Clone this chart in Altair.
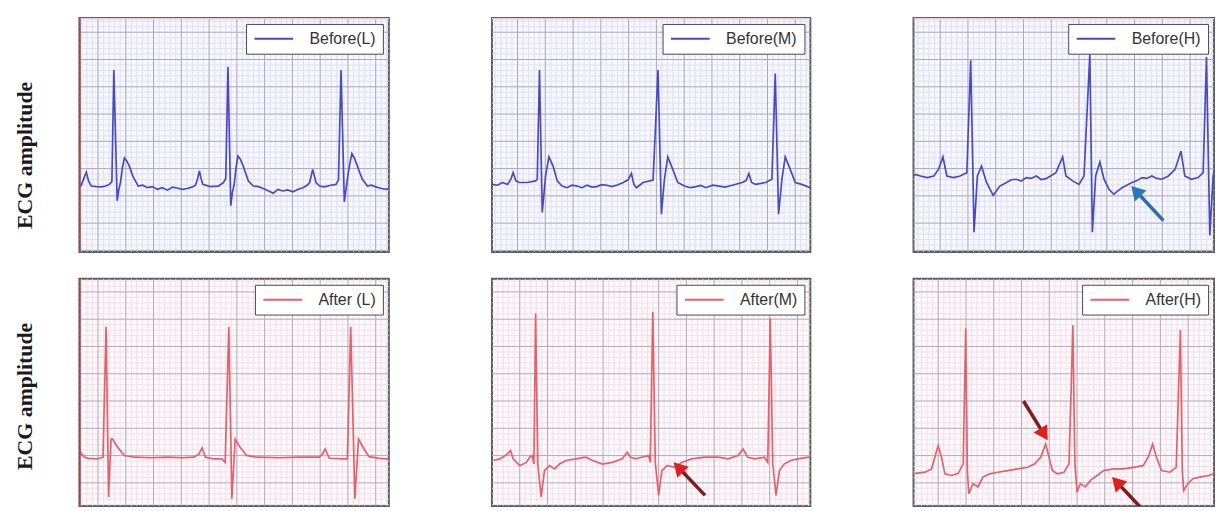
import math
import altair as alt
import pandas as pd

# ---------------- waveform samples ----------------
# t   : time, in large-grid divisions from the panel's left edge
# amp : amplitude, in large-grid divisions above the top row's lower edge
before_L = [(0.00, 2.40), (0.07, 2.45), (0.16, 2.70), (0.25, 2.93), (0.33, 2.60), (0.43, 2.42), (0.60, 2.40),
            (0.79, 2.39), (0.95, 2.42), (1.08, 2.48), (1.17, 2.58), (1.24, 6.67), (1.36, 1.88), (1.42, 2.30),
            (1.48, 2.55), (1.55, 3.10), (1.62, 3.45), (1.70, 3.35), (1.80, 3.15), (1.90, 2.85), (1.98, 2.67),
            (2.12, 2.42), (2.28, 2.45), (2.45, 2.36), (2.62, 2.40), (2.81, 2.30), (2.98, 2.36), (3.17, 2.27),
            (3.35, 2.38), (3.52, 2.35), (3.70, 2.30), (3.88, 2.33), (4.05, 2.38), (4.18, 2.45), (4.26, 2.70),
            (4.32, 2.97), (4.38, 2.70), (4.44, 2.48), (4.71, 2.40), (5.01, 2.42), (5.19, 2.55), (5.27, 2.70),
            (5.35, 6.79), (5.45, 1.70), (5.51, 2.20), (5.57, 2.45), (5.64, 3.10), (5.71, 3.52), (5.80, 3.40),
            (5.90, 3.15), (6.00, 2.85), (6.08, 2.61), (6.26, 2.42), (6.45, 2.40), (6.62, 2.33), (6.80, 2.25),
            (6.98, 2.16), (7.15, 2.30), (7.33, 2.24), (7.50, 2.28), (7.69, 2.21), (7.88, 2.30), (8.05, 2.36),
            (8.20, 2.45), (8.29, 2.55), (8.40, 3.03), (8.46, 2.80), (8.52, 2.55), (8.65, 2.42), (8.82, 2.39),
            (9.05, 2.45), (9.24, 2.48), (9.33, 2.65), (9.42, 6.67), (9.54, 1.84), (9.60, 2.30), (9.65, 2.67),
            (9.73, 3.20), (9.81, 3.61), (9.90, 3.45), (10.01, 3.15), (10.10, 2.90), (10.19, 2.67), (10.37, 2.42),
            (10.52, 2.45), (10.67, 2.39), (10.88, 2.33), (11.08, 2.30), (11.14, 2.32)]

before_M = [(0.00, 2.48), (0.20, 2.45), (0.38, 2.55), (0.56, 2.48), (0.68, 2.67), (0.76, 2.91), (0.86, 2.61),
            (0.98, 2.55), (1.27, 2.55), (1.57, 2.61), (1.63, 2.67), (1.71, 6.67), (1.81, 1.45), (1.93, 2.79),
            (2.05, 3.49), (2.20, 3.15), (2.35, 2.61), (2.52, 2.42), (2.70, 2.36), (2.88, 2.45), (3.06, 2.42),
            (3.24, 2.36), (3.42, 2.45), (3.60, 2.38), (3.77, 2.40), (3.95, 2.47), (4.13, 2.45), (4.31, 2.40),
            (4.49, 2.45), (4.73, 2.55), (4.90, 2.65), (5.02, 2.88), (5.11, 2.48), (5.20, 2.36), (5.44, 2.55),
            (5.80, 2.64), (5.98, 6.67), (6.10, 1.39), (6.21, 2.67), (6.33, 3.49), (6.51, 3.03), (6.69, 2.55),
            (6.93, 2.42), (7.15, 2.36), (7.35, 2.40), (7.52, 2.44), (7.70, 2.36), (7.95, 2.45), (8.18, 2.42),
            (8.40, 2.38), (8.65, 2.45), (9.01, 2.55), (9.15, 2.62), (9.25, 2.88), (9.35, 2.55), (9.49, 2.48),
            (9.85, 2.55), (10.08, 2.67), (10.20, 6.55), (10.32, 1.39), (10.44, 2.67), (10.56, 3.49), (10.74, 3.03),
            (10.92, 2.55), (11.15, 2.48), (11.46, 2.36)]

before_H = [(0.00, 2.80), (0.07, 2.85), (0.25, 2.79), (0.49, 2.73), (0.73, 2.79), (0.90, 3.03), (1.06, 3.49),
            (1.20, 2.79), (1.44, 2.73), (1.68, 2.79), (1.92, 2.91), (2.06, 7.03), (2.18, 0.73), (2.30, 2.79),
            (2.45, 3.15), (2.63, 2.55), (2.87, 2.08), (3.11, 2.42), (3.35, 2.55), (3.52, 2.65), (3.70, 2.67),
            (3.88, 2.60), (4.06, 2.73), (4.24, 2.70), (4.42, 2.79), (4.60, 2.66), (4.77, 2.69), (4.95, 2.80),
            (5.13, 2.91), (5.37, 3.49), (5.49, 2.79), (5.73, 2.61), (5.96, 2.48), (6.14, 2.79), (6.35, 7.27),
            (6.44, 0.73), (6.56, 2.79), (6.71, 3.30), (6.86, 2.67), (7.04, 2.30), (7.21, 2.12), (7.51, 2.36),
            (7.87, 2.55), (8.05, 2.62), (8.23, 2.73), (8.40, 2.70), (8.58, 2.79), (8.76, 2.70), (8.94, 2.67),
            (9.18, 2.79), (9.42, 3.03), (9.63, 3.70), (9.77, 2.79), (10.01, 2.67), (10.25, 2.73), (10.43, 2.91),
            (10.55, 7.15), (10.67, 0.61), (10.79, 2.79), (10.90, 3.27), (11.11, 3.03)]

# bottom row amplitudes: large-grid divisions above the figure's lower edge
after_L = [(0.00, 2.34), (0.07, 2.16), (0.19, 2.04), (0.31, 2.00), (0.67, 1.98), (0.85, 2.04), (0.96, 6.82),
           (1.05, 0.58), (1.14, 2.70), (1.20, 2.70), (1.38, 2.40), (1.62, 2.10), (1.98, 2.04), (2.60, 2.02),
           (3.17, 2.04), (3.70, 2.02), (4.12, 2.04), (4.30, 2.15), (4.42, 2.38), (4.54, 2.04), (4.83, 1.98),
           (5.13, 1.98), (5.25, 1.85), (5.38, 6.82), (5.49, 0.52), (5.61, 2.70), (5.79, 2.40), (6.02, 2.10),
           (6.38, 2.04), (7.20, 2.02), (7.93, 2.04), (8.64, 2.04), (8.75, 2.15), (8.85, 2.34), (9.00, 2.00),
           (9.48, 1.98), (9.65, 1.98), (9.77, 6.82), (9.92, 0.52), (10.05, 2.70), (10.25, 2.34), (10.43, 2.06),
           (10.79, 2.00), (11.08, 1.98), (11.14, 1.98)]

after_M = [(0.05, 1.92), (0.29, 1.98), (0.52, 2.13), (0.67, 2.28), (0.76, 1.98), (1.00, 1.73), (1.24, 1.85),
           (1.36, 2.04), (1.45, 2.10), (1.51, 1.79), (1.57, 7.31), (1.65, 1.79), (1.77, 0.58), (1.89, 1.55),
           (2.07, 1.73), (2.25, 1.61), (2.43, 1.79), (2.67, 1.92), (3.02, 1.98), (3.38, 2.04), (3.62, 1.92),
           (3.98, 1.79), (4.33, 1.85), (4.69, 1.98), (4.87, 2.22), (4.99, 2.04), (5.17, 1.98), (5.40, 2.04),
           (5.64, 2.10), (5.70, 1.85), (5.79, 7.37), (5.88, 1.85), (6.00, 0.64), (6.12, 1.55), (6.30, 1.73),
           (6.60, 1.67), (6.83, 1.85), (7.19, 1.98), (7.67, 2.04), (8.14, 2.04), (8.50, 1.98), (8.86, 2.10),
           (9.04, 2.34), (9.21, 2.04), (9.45, 1.98), (9.81, 2.04), (9.93, 1.85), (10.02, 7.13), (10.11, 1.79),
           (10.23, 0.64), (10.35, 1.55), (10.52, 1.79), (10.76, 1.92), (11.00, 1.98), (11.42, 2.04)]

after_H = [(0.06, 1.45), (0.42, 1.49), (0.65, 1.61), (0.80, 2.16), (0.89, 2.46), (1.01, 2.04), (1.13, 1.43),
           (1.37, 1.37), (1.61, 1.45), (1.79, 1.79), (1.88, 6.76), (1.94, 1.55), (1.99, 0.70), (2.14, 1.07),
           (2.32, 0.95), (2.50, 1.31), (2.74, 1.43), (3.04, 1.49), (3.39, 1.55), (3.75, 1.61), (4.11, 1.67),
           (4.35, 1.79), (4.58, 2.04), (4.76, 2.52), (4.88, 2.04), (5.00, 1.55), (5.18, 1.43), (5.42, 1.49),
           (5.60, 1.79), (5.74, 6.88), (5.81, 1.79), (5.89, 0.76), (6.01, 1.07), (6.19, 0.95), (6.37, 1.19),
           (6.61, 1.37), (6.85, 1.55), (7.20, 1.61), (7.56, 1.61), (7.92, 1.67), (8.27, 1.73), (8.45, 2.04),
           (8.61, 2.52), (8.75, 2.04), (8.93, 1.55), (9.23, 1.49), (9.46, 1.67), (9.61, 6.70), (9.68, 1.55),
           (9.73, 0.82), (9.88, 1.07), (10.06, 1.25), (10.30, 1.31), (10.65, 1.37), (11.04, 1.55)]

# annotation arrows: (tail t, tail amp, head t, head amp)
arrows_before_H = [(9.00, 1.15, 8.01, 2.24)]
arrows_after_M = [(7.67, 0.64, 6.71, 1.67)]
arrows_after_H = [(3.96, 4.10, 4.70, 2.88), (8.27, 0.10, 7.32, 1.13)]

legend_labels = ["Before(L)", "Before(M)", "Before(H)", "After (L)", "After(M)", "After(H)"]
y_title = "ECG amplitude"

# ---------------- styling ----------------
PX_X = 28.0
PX_Y = 27.5
H_TOP = 236
H_BOT = 229
GAP_V = 23
GAP_H = 100
BEFORE_COLOR = "#4a4ac0"
AFTER_COLOR = "#e4616c"
TOP_THEME = {"bg": "#f6f6fc", "minor": "#dcdcef", "major": "#a7a7bb", "border": "#5e5e5e"}
BOT_THEME = {"bg": "#fbf7fa", "minor": "#ecdde6", "major": "#b3a9b4", "border": "#5e5e5e"}


def grid_lists(offset, lo, hi):
    minor, major = [], []
    for i in range(-60, 80):
        v = round(offset + 0.2 * i, 4)
        if lo < v < hi:
            (major if i % 5 == 0 else minor).append(v)
    return minor, major


def panel(points, label, color, width, height, ydom, grid_off, theme,
          title_y=None, arrows=(), shaft_color=None, head_color=None,
          red_left=False, pink_top=False):
    xdom = [0, width / PX_X]
    xs = alt.Scale(domain=xdom, nice=False, zero=False)
    ys = alt.Scale(domain=ydom, nice=False, zero=False)
    if title_y is not None:
        yaxis = alt.Axis(title=y_title, labels=False, ticks=False, domain=False, grid=False,
                         titlePadding=43, titleY=title_y, titleFont="Liberation Serif",
                         titleFontSize=22, titleFontWeight="bold", titleColor="#1a1a1a")
    else:
        yaxis = None

    xminor, xmajor = grid_lists(grid_off[0], *xdom)
    yminor, ymajor = grid_lists(grid_off[1], *ydom)

    def vrules(vals, col, sw):
        return alt.Chart(pd.DataFrame({"g": vals})).mark_rule(color=col, strokeWidth=sw).encode(
            x=alt.X("g:Q", scale=xs, axis=None))

    def hrules(vals, col, sw):
        return alt.Chart(pd.DataFrame({"g": vals})).mark_rule(color=col, strokeWidth=sw).encode(
            y=alt.Y("g:Q", scale=ys, axis=yaxis))

    df = pd.DataFrame(points, columns=["t", "amp"])
    df["series"] = label
    line = alt.Chart(df).mark_line(strokeWidth=1.7, clip=True).encode(
        x=alt.X("t:Q", scale=xs, axis=None),
        y=alt.Y("amp:Q", scale=ys, axis=yaxis),
        color=alt.Color("series:N", scale=alt.Scale(domain=[label], range=[color]),
                        legend=alt.Legend(title=None, orient="top-right", offset=6,
                                          fillColor="#ffffff", strokeColor="#4a4a4a", padding=7,
                                          cornerRadius=0, symbolType="M-3,0H3", symbolSize=169,
                                          symbolStrokeWidth=2, symbolOffset=13, labelOffset=28,
                                          labelFont="Liberation Sans", labelFontSize=16,
                                          labelColor="#333333")),
    )
    layers = [vrules(xminor, theme["minor"], 0.8), hrules(yminor, theme["minor"], 0.8),
              vrules(xmajor, theme["major"], 1.0), hrules(ymajor, theme["major"], 1.0), line]

    for (t0, a0, t1, a1) in arrows:
        ang = math.degrees(math.atan2((t1 - t0) * PX_X, (a1 - a0) * PX_Y)) % 360
        shaft = alt.Chart(pd.DataFrame({"t": [t0, t1], "amp": [a0, a1]})).mark_line(
            color=shaft_color, strokeWidth=3.5, clip=True).encode(
            x=alt.X("t:Q", scale=xs, axis=None), y=alt.Y("amp:Q", scale=ys, axis=yaxis))
        head = alt.Chart(pd.DataFrame({"t": [t1], "amp": [a1]})).mark_point(
            shape="triangle-up", filled=True, size=260, color=head_color, opacity=1,
            angle=ang, clip=True).encode(
            x=alt.X("t:Q", scale=xs, axis=None), y=alt.Y("amp:Q", scale=ys, axis=yaxis))
        layers += [shaft, head]

    one = pd.DataFrame({"k": [0]})
    if pink_top:
        layers.append(alt.Chart(one).mark_rule(color="#f3cccc", strokeWidth=3, clip=True).encode(
            x=alt.value(0), x2=alt.value(width), y=alt.value(0)))
    if red_left:
        layers.append(alt.Chart(one).mark_rule(color="#b03c3c", strokeWidth=2.5, clip=True).encode(
            x=alt.value(0), y=alt.value(0), y2=alt.value(height)))

    return alt.layer(*layers).properties(
        width=width, height=height,
        view=alt.ViewBackground(fill=theme["bg"], stroke=theme["border"], strokeWidth=2))


W1, W2, W3 = 312, 321, 303
top_dom = [0, H_TOP / PX_Y]
bot_top = 8.58
bot_dom = [bot_top - H_BOT / PX_Y, bot_top]

pA = panel(before_L, legend_labels[0], BEFORE_COLOR, W1, H_TOP, top_dom, (0.67, 0.06), TOP_THEME,
           title_y=138, red_left=True, pink_top=True)
pB = panel(before_M, legend_labels[1], BEFORE_COLOR, W2, H_TOP, top_dom, (0.92, 0.06), TOP_THEME,
           pink_top=True)
pC = panel(before_H, legend_labels[2], BEFORE_COLOR, W3, H_TOP, top_dom, (0.96, 0.06), TOP_THEME,
           arrows=arrows_before_H, shaft_color="#2e6ea6", head_color="#2a78b8", pink_top=True)
pD = panel(after_L, legend_labels[3], AFTER_COLOR, W1, H_BOT, bot_dom, (0.67, 0.10), BOT_THEME,
           title_y=118, red_left=True)
pE = panel(after_M, legend_labels[4], AFTER_COLOR, W2, H_BOT, bot_dom, (1.00, 0.10), BOT_THEME,
           arrows=arrows_after_M, shaft_color="#7a1f1f", head_color="#dd1f1f")
pF = panel(after_H, legend_labels[5], AFTER_COLOR, W3, H_BOT, bot_dom, (0.89, 0.10), BOT_THEME,
           arrows=arrows_after_H, shaft_color="#7a1f1f", head_color="#dd1f1f")

top = alt.hconcat(pA, pB, pC, spacing=GAP_H).resolve_scale(color="independent")
bottom = alt.hconcat(pD, pE, pF, spacing=GAP_H).resolve_scale(color="independent")
chart = alt.vconcat(top, bottom, spacing=GAP_V).resolve_scale(color="independent").properties(
    padding={"left": 5, "top": 6, "right": 0, "bottom": 0},
    background="#ffffff",
)

chart.save("out.html", embed_options={"renderer": "svg", "actions": False})
